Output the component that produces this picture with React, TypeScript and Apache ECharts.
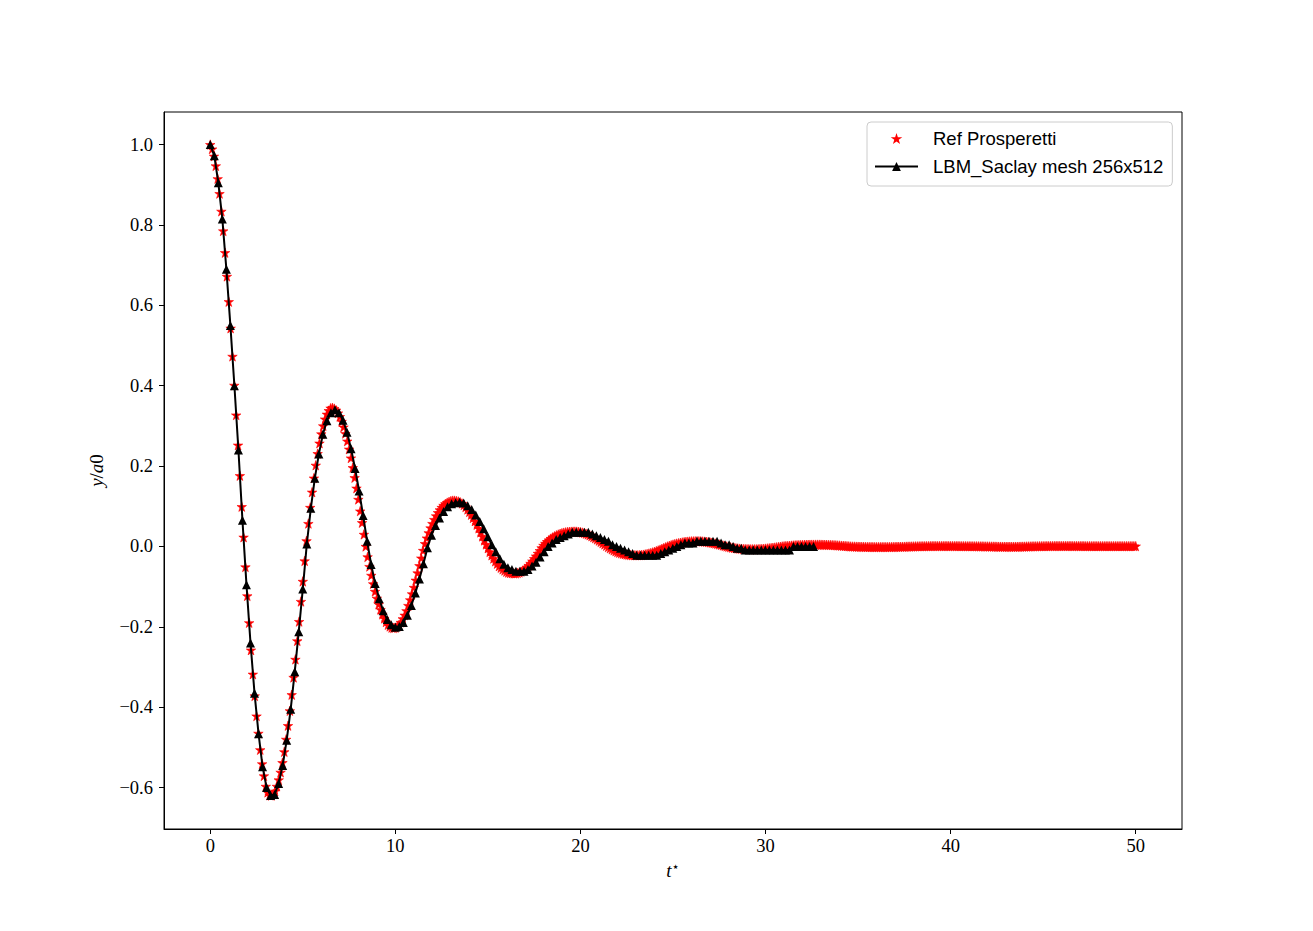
import React, { useEffect, useRef } from "react";
import * as echarts from "echarts";

// Reference solution (Prosperetti): t = 0 .. 50 step 0.1
const redStep = 0.1;
const redY = [
  1.0, 0.989, 0.971, 0.947, 0.915, 0.878, 0.834, 0.785, 0.731, 0.672,
  0.609, 0.543, 0.473, 0.401, 0.327, 0.252, 0.176, 0.099, 0.023, -0.051,
  -0.123, -0.19, -0.258, -0.318, -0.372, -0.422, -0.465, -0.506, -0.541, -0.571,
  -0.597, -0.612, -0.619, -0.62, -0.616, -0.609, -0.597, -0.581, -0.562, -0.538,
  -0.511, -0.48, -0.446, -0.409, -0.369, -0.326, -0.281, -0.235, -0.187, -0.137,
  -0.087, -0.036, 0.014, 0.057, 0.097, 0.135, 0.17, 0.202, 0.231, 0.257,
  0.28, 0.3, 0.317, 0.329, 0.338, 0.344, 0.345, 0.343, 0.339, 0.332,
  0.323, 0.311, 0.297, 0.281, 0.262, 0.242, 0.22, 0.196, 0.171, 0.145,
  0.117, 0.088, 0.059, 0.03, 0.0, -0.026, -0.05, -0.072, -0.093, -0.112,
  -0.129, -0.144, -0.157, -0.169, -0.179, -0.188, -0.195, -0.199, -0.202, -0.203,
  -0.202, -0.199, -0.195, -0.189, -0.18, -0.171, -0.16, -0.147, -0.133, -0.118,
  -0.102, -0.084, -0.066, -0.048, -0.029, -0.01, 0.007, 0.021, 0.034, 0.046,
  0.057, 0.067, 0.076, 0.084, 0.091, 0.097, 0.102, 0.106, 0.109, 0.111,
  0.113, 0.114, 0.114, 0.113, 0.112, 0.11, 0.107, 0.103, 0.098, 0.092,
  0.086, 0.079, 0.071, 0.063, 0.054, 0.045, 0.035, 0.025, 0.015, 0.005,
  -0.0045, -0.0135, -0.022, -0.03, -0.037, -0.043, -0.049, -0.053, -0.057, -0.06,
  -0.063, -0.065, -0.066, -0.0665, -0.067, -0.067, -0.066, -0.0647, -0.0626, -0.0597,
  -0.0562, -0.0521, -0.0474, -0.0422, -0.0365, -0.0304, -0.024, -0.0173, -0.0105, -0.0035,
  0.0025, 0.0075, 0.012, 0.016, 0.0195, 0.0226, 0.0254, 0.0278, 0.0298, 0.0316,
  0.0331, 0.0343, 0.0352, 0.036, 0.0365, 0.0368, 0.0369, 0.037, 0.0369, 0.0364,
  0.0357, 0.0346, 0.0333, 0.0318, 0.0299, 0.0279, 0.0256, 0.0231, 0.0204, 0.0175,
  0.0145, 0.0114, 0.0082, 0.005, 0.0017, -0.0015, -0.0045, -0.0072, -0.0097, -0.0119,
  -0.0139, -0.0156, -0.0171, -0.0183, -0.0194, -0.0202, -0.0209, -0.0214, -0.0218, -0.0219,
  -0.022, -0.0219, -0.0216, -0.0212, -0.0205, -0.0197, -0.0187, -0.0176, -0.0163, -0.0148,
  -0.0133, -0.0116, -0.0098, -0.0079, -0.006, -0.004, -0.002, 0.0, 0.0016, 0.0032,
  0.0047,
  0.006, 0.0072, 0.0082, 0.0092, 0.01, 0.0108, 0.0114, 0.012, 0.0124, 0.0127,
  0.0128, 0.0129, 0.013, 0.0129, 0.0128, 0.0124, 0.012, 0.0115, 0.0108, 0.01,
  0.0092, 0.0082, 0.0072, 0.0061, 0.005, 0.0038, 0.0025, 0.0013, 0.0, -0.001,
  -0.002, -0.003, -0.0038, -0.0045, -0.005, -0.0055, -0.0059, -0.0063, -0.0065, -0.0067,
  -0.0068, -0.007, -0.007, -0.007, -0.0069, -0.0067, -0.0065, -0.0062, -0.0058, -0.0054,
  -0.0049, -0.0044, -0.0039, -0.0033, -0.0027, -0.002, -0.0014, -0.0007, 0.0, 0.0005,
  0.0009, 0.0013, 0.0017, 0.0021, 0.0025, 0.0028, 0.0031, 0.0033, 0.0036, 0.0038,
  0.004, 0.0041, 0.0042, 0.0043, 0.0044, 0.0044, 0.0045, 0.0045, 0.0045, 0.0044,
  0.0043, 0.0042, 0.0041, 0.0039, 0.0037, 0.0034, 0.0032, 0.0029, 0.0026, 0.0023,
  0.0019, 0.0015, 0.0012, 0.0008, 0.0004, 0.0, -0.0002, -0.0003, -0.0005, -0.0006,
  -0.0008, -0.0009, -0.001, -0.0011, -0.0012, -0.0013, -0.0014, -0.0014, -0.0015, -0.0015,
  -0.0015, -0.0015, -0.0015, -0.0015, -0.0015, -0.0014, -0.0014, -0.0013, -0.0012, -0.0011,
  -0.001, -0.0009, -0.0008, -0.0007, -0.0006, -0.0004, -0.0003, -0.0002, 0.0, 0.0001,
  0.0002, 0.0003, 0.0004, 0.0005, 0.0006, 0.0007, 0.0008, 0.0008, 0.0009, 0.0009,
  0.001, 0.001, 0.001, 0.001, 0.001, 0.001, 0.001, 0.001, 0.001, 0.001,
  0.001, 0.0009, 0.0009, 0.0009, 0.0008, 0.0008, 0.0007, 0.0007, 0.0006, 0.0006,
  0.0005, 0.0005, 0.0004, 0.0004, 0.0003, 0.0002, 0.0002, 0.0001, 0.0, 0.0,
  -0.0001, -0.0002, -0.0003, -0.0004, -0.0005, -0.0006, -0.0006, -0.0007, -0.0007, -0.0008,
  -0.0008, -0.0008, -0.0008, -0.0008, -0.0007, -0.0007, -0.0006, -0.0005, -0.0004, -0.0003,
  -0.0001, 0.0, 0.0001, 0.0002, 0.0003, 0.0004, 0.0005, 0.0006, 0.0007, 0.0008,
  0.0008, 0.0009, 0.0009, 0.001, 0.001, 0.0011, 0.0011, 0.0011, 0.0011, 0.0011,
  0.0011, 0.0011, 0.0011, 0.0011, 0.0011, 0.001, 0.001, 0.001, 0.0009, 0.0009,
  0.0009, 0.0009, 0.0008, 0.0008, 0.0008, 0.0008, 0.0008, 0.0008, 0.0008, 0.0008,
  0.0008, 0.0008, 0.0008, 0.0008, 0.0008, 0.0008, 0.0008, 0.0008, 0.0008, 0.0008,
  0.0008, 0.0008, 0.0008, 0.0008, 0.0008, 0.0008, 0.0008, 0.0008, 0.0008, 0.0008,
];

// LBM_Saclay mesh 256x512 output, constant time step
const lbmStep = 0.2173;
const lbmY = [
  1.0, 0.972, 0.905, 0.815, 0.69, 0.55, 0.4, 0.24, 0.065, -0.095,
  -0.24, -0.365, -0.466, -0.548, -0.6, -0.62, -0.617, -0.59, -0.545, -0.482,
  -0.405, -0.312, -0.212, -0.106, 0.006, 0.095, 0.17, 0.23, 0.279, 0.313,
  0.333, 0.34, 0.333, 0.314, 0.284, 0.243, 0.194, 0.138, 0.077, 0.013,
  -0.045, -0.092, -0.13, -0.16, -0.182, -0.195, -0.201, -0.199, -0.189, -0.171,
  -0.147, -0.116, -0.081, -0.043, -0.003, 0.028, 0.052, 0.071, 0.087, 0.099,
  0.106, 0.109, 0.11, 0.108, 0.101, 0.092, 0.078, 0.062, 0.044, 0.024,
  0.0044, -0.0132, -0.0308, -0.044, -0.0528, -0.0572, -0.0616, -0.0616, -0.0616, -0.0572,
  -0.0484, -0.0396, -0.0264, -0.0132, 0.0, 0.0088, 0.0176, 0.022, 0.0264, 0.0308,
  0.0352, 0.0352, 0.0352, 0.0352, 0.0352, 0.0308, 0.0264, 0.022, 0.0176, 0.0132,
  0.0044, 0.0, -0.0044, -0.0088, -0.0132, -0.0176, -0.022, -0.022, -0.022, -0.022,
  -0.022, -0.022, -0.0176, -0.0132, -0.0088, -0.0044, 0.0, 0.0044, 0.0088, 0.0088,
  0.0088, 0.0132, 0.0132, 0.0132, 0.0132, 0.0132, 0.0132, 0.0088, 0.0044, 0.0044,
  0.0, -0.0044, -0.0044, -0.0088, -0.0088, -0.0088, -0.0088, -0.0088, -0.0088, -0.0088,
  -0.0088, -0.0088, -0.0088, -0.0088, -0.0088, 0.0, 0.0, 0.0, 0.0, 0.0,
  0.0,
];

const xTicks = [0, 10, 20, 30, 40, 50];
const yTicks = [-0.6, -0.4, -0.2, 0, 0.2, 0.4, 0.6, 0.8, 1.0];

const seriesNames = ["Ref Prosperetti", "LBM_Saclay mesh 256x512"];

const STAR =
  "path://M0,-1L0.2245,-0.309L0.9511,-0.309L0.3633,0.118L0.5878,0.809L0,0.382L-0.5878,0.809L-0.3633,0.118L-0.9511,-0.309L-0.2245,-0.309Z";

export default function App() {
  const ref = useRef<HTMLDivElement>(null);

  useEffect(() => {
    document.body.style.margin = "0";
    const chart = echarts.init(ref.current!, null, { renderer: "svg" });

    const redData = redY.map((y, i) => [Math.round(i * redStep * 100) / 100, y]);
    const lbmData = lbmY.map((y, i) => [i * lbmStep, y]);

    const serif = "'Liberation Serif', 'DejaVu Serif', serif";
    const sans = "'Liberation Sans', 'DejaVu Sans', sans-serif";

    chart.setOption({
      animation: false,
      backgroundColor: "#ffffff",
      grid: {
        left: 164,
        right: 131,
        top: 112,
        bottom: 102,
        show: true,
        borderColor: "#000",
        borderWidth: 1,
        backgroundColor: "transparent",
        containLabel: false,
      },
      legend: {
        orient: "vertical",
        left: 867,
        top: 122,
        padding: [7, 9, 10, 7],
        itemWidth: 43,
        itemHeight: 11,
        itemGap: 9,
        backgroundColor: "rgba(255,255,255,0.8)",
        borderColor: "#cccccc",
        borderWidth: 1,
        borderRadius: 4,
        selectedMode: false,
        textStyle: {
          fontFamily: sans,
          fontSize: 18.5,
          color: "#000",
          padding: [0, 0, 0, 10],
        },
        data: [
          { name: seriesNames[0], itemStyle: { color: "#ff0000", borderWidth: 0 } },
          { name: seriesNames[1] },
        ],
      },
      xAxis: {
        type: "value",
        min: -2.5,
        max: 52.5,
        axisLine: { show: true, onZero: false, lineStyle: { color: "#000", width: 1 } },
        axisTick: {
          show: true,
          inside: false,
          length: 5,
          lineStyle: { color: "#000", width: 1 },
          customValues: xTicks,
        },
        axisLabel: {
          customValues: xTicks,
          color: "#000",
          fontSize: 18.5,
          fontFamily: serif,
          margin: 7,
          formatter: (v: number) => String(v),
        },
        splitLine: { show: false },
        name: "{it|t}{sup|\u22c6}",
        nameLocation: "middle",
        nameGap: 28,
        nameTextStyle: {
          color: "#000",
          rich: {
            it: { fontFamily: serif, fontStyle: "italic", fontSize: 19, color: "#000" },
            sup: {
              fontFamily: "'DejaVu Sans', sans-serif",
              fontSize: 13,
              color: "#000",
              verticalAlign: "top",
              padding: [0, 0, 8, 0],
            },
          },
        },
      },
      yAxis: {
        type: "value",
        min: -0.7031,
        max: 1.0811,
        axisLine: { show: true, onZero: false, lineStyle: { color: "#000", width: 1 } },
        axisTick: {
          show: true,
          inside: false,
          length: 5,
          lineStyle: { color: "#000", width: 1 },
          customValues: yTicks,
        },
        axisLabel: {
          customValues: yTicks,
          color: "#000",
          fontSize: 18.5,
          fontFamily: serif,
          margin: 11,
          formatter: (v: number) => (v < -1e-9 ? "\u2212" + Math.abs(v).toFixed(1) : Math.abs(v).toFixed(1)),
        },
        splitLine: { show: false },
        name: "{it|y}{n|/}{it|a}{n|0}",
        nameLocation: "middle",
        nameGap: 58,
        nameRotate: 90,
        nameTextStyle: {
          color: "#000",
          rich: {
            it: { fontFamily: serif, fontStyle: "italic", fontSize: 19, color: "#000" },
            n: { fontFamily: serif, fontSize: 19, color: "#000" },
          },
        },
      },
      series: [
        {
          type: "scatter",
          name: seriesNames[0],
          data: redData,
          symbol: STAR,
          symbolSize: 9.5,
          itemStyle: { color: "#ff0000", opacity: 1, borderColor: "#ff0000", borderWidth: 0.6 },
          z: 2,
        },
        {
          type: "line",
          name: seriesNames[1],
          data: lbmData,
          symbol: "triangle",
          symbolSize: 9,
          showAllSymbol: true,
          lineStyle: { color: "#000", width: 2 },
          itemStyle: { color: "#000" },
          z: 3,
        },
      ],
    });

    return () => chart.dispose();
  }, []);

  return <div ref={ref} style={{ width: 1313, height: 931 }} />;
}
